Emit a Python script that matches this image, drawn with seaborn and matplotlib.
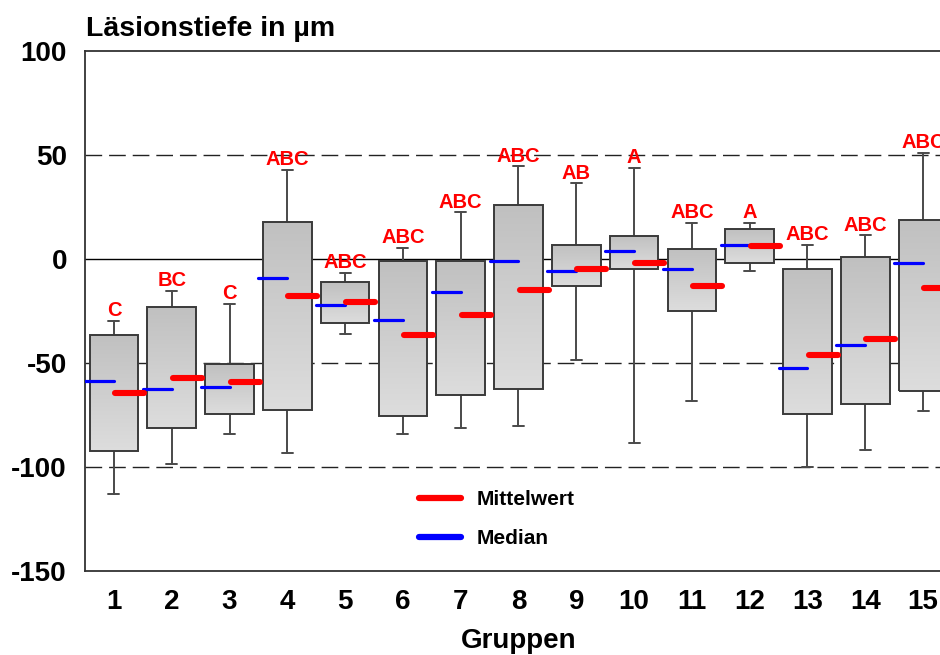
import numpy as np
import matplotlib
matplotlib.use("Agg")
import matplotlib.pyplot as plt
import seaborn as sns
from matplotlib.lines import Line2D
from matplotlib.colors import LinearSegmentedColormap

# ---- data ----
groups = list(range(1, 16))
whisker_high = [-29.7, -15.2, -21.5, 42.8, -6.6, 5.4, 22.4, 44.5, 36.3, 43.9, 17.5, 17.5, 6.9, 11.3, 50.8]
box_high = [-36.5, -22.9, -50.5, 17.9, -11.2, -1.1, -1.1, 25.8, 6.9, 10.9, 4.8, 14.2, -5.0, 0.8, 18.9]
box_low = [-92.5, -81.4, -74.5, -72.5, -30.6, -75.5, -65.4, -62.5, -13.0, -5.0, -25.0, -2.1, -74.5, -69.6, -63.5]
whisker_low = [-113.0, -98.6, -84.0, -93.5, -35.9, -84.0, -81.4, -80.5, -48.6, -88.5, -68.3, -6.0, -100.0, -92.0, -72.9]
medians = [-58.5, -62.5, -61.5, -9.0, -22.0, -29.3, -16.0, -1.0, -6.0, 4.0, -5.0, 6.9, -52.4, -41.3, -2.1]
means = [-64.3, -57.2, -59.3, -17.8, -20.9, -36.4, -26.8, -14.8, -4.8, -1.9, -13.0, 6.1, -46.2, -38.3, -13.8]
letters = ["C", "BC", "C", "ABC", "ABC", "ABC", "ABC", "ABC", "AB", "A", "ABC", "A", "ABC", "ABC", "ABC"]
y_ticks = [100, 50, 0, -50, -100, -150]
dashed_refs = [50, -50, -100]

sns.set_theme(style="white")
plt.rcParams['font.family'] = ['Liberation Sans', 'DejaVu Sans']
plt.rcParams['font.weight'] = 'bold'
plt.rcParams['text.color'] = 'black'
plt.rcParams['axes.labelcolor'] = 'black'
plt.rcParams['xtick.color'] = 'black'
plt.rcParams['ytick.color'] = 'black'

W, H = 940, 655
fig = plt.figure(figsize=(W / 100, H / 100), dpi=100)
ax = fig.add_axes([85 / W, (H - 571) / H, (W - 85) / W, (571 - 51) / H])

xs = np.array(groups, dtype=float)
bw = 0.84

stats = []
for i in range(len(groups)):
    stats.append(dict(med=medians[i], q1=box_low[i], q3=box_high[i],
                      whislo=whisker_low[i], whishi=whisker_high[i], fliers=[]))

edge = '#3a3a3a'
bp = ax.bxp(stats, positions=xs, widths=bw, patch_artist=True, showfliers=False,
            capwidths=0.19,
            boxprops=dict(facecolor='none', edgecolor=edge, linewidth=1.4),
            whiskerprops=dict(color='#4a4a4a', linewidth=1.4),
            capprops=dict(color='#4a4a4a', linewidth=1.4),
            medianprops=dict(visible=False), manage_ticks=False)
for art in bp['boxes']:
    art.set_zorder(4)
for art in bp['whiskers'] + bp['caps']:
    art.set_zorder(3)

cmap = LinearSegmentedColormap.from_list('g', ['#dddddd', '#c0c0c0'])
grad = np.linspace(0, 1, 256).reshape(-1, 1)
for patch, x, lo, hi in zip(bp['boxes'], xs, box_low, box_high):
    im = ax.imshow(grad, extent=(x - bw / 2, x + bw / 2, lo, hi), origin='lower',
                   cmap=cmap, aspect='auto', zorder=3.5, interpolation='bilinear')
    im.set_clip_path(patch)

# reference lines
for v in dashed_refs:
    ax.axhline(v, color='#222222', lw=1.0, dashes=(12, 5), zorder=1)
ax.axhline(0, color='black', lw=1.0, zorder=1)

# median & mean markers
med_lc = ax.hlines(medians, xs - 0.5, xs, color='#0000ff', lw=2.3, zorder=6)
med_lc.set_capstyle('round')
mean_lc = ax.hlines(means, xs + 0.02, xs + 0.52, color='#ff0000', lw=4.4, zorder=7)
mean_lc.set_capstyle('round')

# significance letters
for x, top, lab in zip(xs, whisker_high, letters):
    ax.annotate(lab, (x, top), xytext=(0, 3.5), textcoords='offset points',
                ha='center', va='baseline', color='#ff0000', fontsize=14.5,
                fontweight='bold', zorder=8, annotation_clip=False)

ax.set_xlim(0.5, 0.5 + (W - 85) / 57.8)
ax.set_ylim(-150, 100)
ax.set_yticks(y_ticks)
ax.set_yticklabels([str(t) for t in y_ticks])
ax.set_xticks(xs)
ax.set_xticklabels([str(g) for g in groups])
ax.tick_params(axis='both', length=0, labelsize=20, colors='black')
ax.tick_params(axis='y', pad=13)
ax.tick_params(axis='x', pad=13)
for lab in ax.get_xticklabels() + ax.get_yticklabels():
    lab.set_fontweight('bold')
for s in ['left', 'bottom', 'top']:
    ax.spines[s].set_color('#333333')
    ax.spines[s].set_linewidth(1.3)
ax.spines['right'].set_visible(False)
ax.grid(False)

# legend
handles = [Line2D([], [], color='#ff0000', lw=4.5, solid_capstyle='round'),
           Line2D([], [], color='#0000ff', lw=4.5, solid_capstyle='round')]
leg = fig.legend(handles, ['Mittelwert', 'Median'], loc='upper left',
                 bbox_to_anchor=(419 / W, (H - 490) / H), frameon=False,
                 prop=dict(size=15, weight='bold'), handlelength=2.0,
                 handletextpad=0.75, labelspacing=0.95, borderpad=0, borderaxespad=0)
for t in leg.get_texts():
    t.set_color('black')

fig.text(86 / W, (H - 36) / H, 'Läsionstiefe in µm', fontsize=20.5, fontweight='bold',
         ha='left', va='baseline')
fig.text(519 / W, (H - 648) / H, 'Gruppen', fontsize=20, fontweight='bold',
         ha='center', va='baseline')

fig.savefig('out.png', dpi=100)
